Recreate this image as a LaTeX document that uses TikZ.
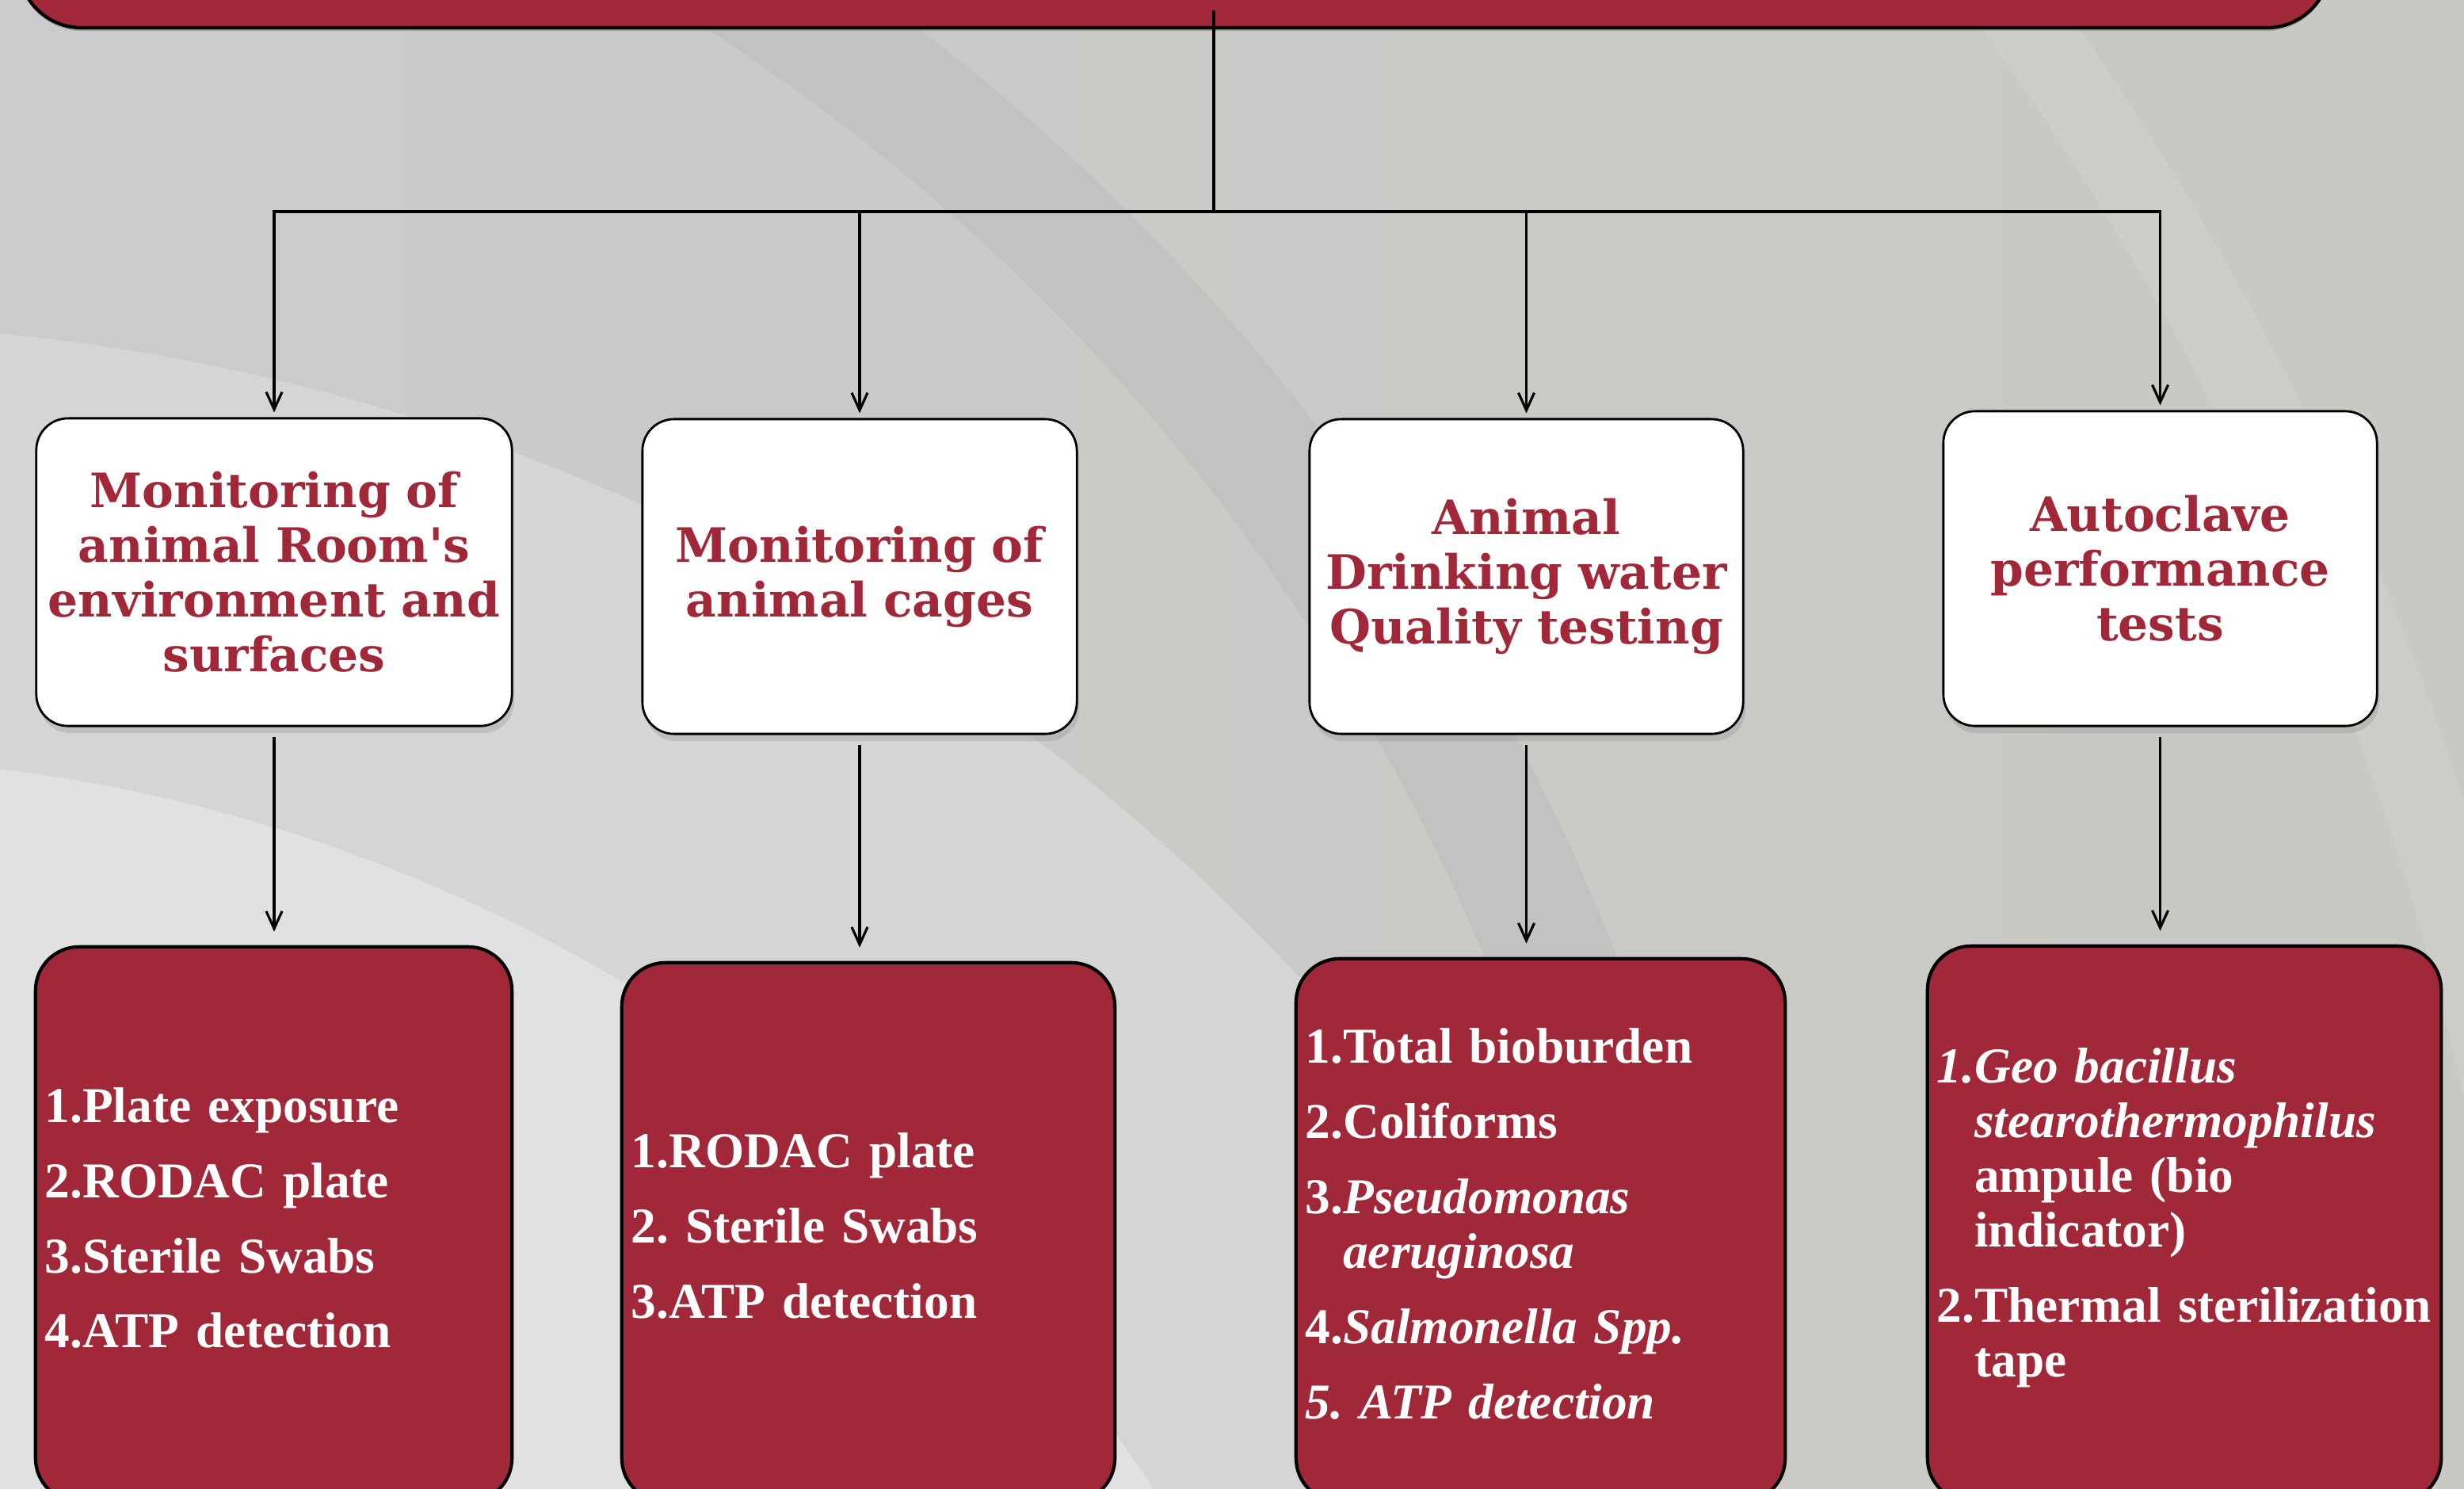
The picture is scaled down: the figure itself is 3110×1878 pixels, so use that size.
\documentclass[tikz,border=0pt]{standalone}
\usepackage{fontspec}
\setmainfont{Liberation Serif}
\newfontfamily\headfont{DejaVu Serif}
\usetikzlibrary{arrows.meta,shadows}
\frenchspacing

\definecolor{bordo}{RGB}{161,40,56}
\definecolor{bgleft}{RGB}{203,203,203}
\definecolor{bgright}{RGB}{201,200,195}
\definecolor{bglight}{RGB}{213,213,213}
\definecolor{bglighter}{RGB}{225,225,225}
\definecolor{bgdark}{RGB}{194,194,193}
\definecolor{bgpale}{RGB}{206,205,201}

\tikzset{
  headbox/.style={draw=black, line width=0.8pt, fill=white, rounded corners=0.4cm,
    text=bordo, align=center, inner sep=0pt,
    font=\headfont\bfseries\fontsize{17}{19.6}\selectfont,
    drop shadow={shadow xshift=0.03cm, shadow yshift=-0.09cm, opacity=0.25}},
  listbox/.style={draw=black, line width=1.2pt, fill=bordo, rounded corners=0.55cm,
    text=white, align=left, inner xsep=0.12cm, inner ysep=0pt,
    font=\bfseries\fontsize{18}{19.6}\selectfont,
    execute at end node={\par\vspace*{0.16cm}}},
  banner/.style={draw=black, line width=1.2pt, fill=bordo, rounded corners=0.8cm,
    drop shadow={shadow xshift=0cm, shadow yshift=-0.04cm, opacity=0.5}},
  trunk/.style={draw=black, line width=0.9pt},
  link/.style={trunk, -{Straight Barb[length=0.22cm,width=0.2cm]}}
}

\begin{document}
\begin{tikzpicture}[x=0.01cm, y=-0.01cm]
  \useasboundingbox (0,0) rectangle (3110,1878);

  % Background arcs
  \begin{scope}
    \clip (0,0) rectangle (3110,1878);
    \shade[left color=bgleft, right color=bgright] (0,0) rectangle (3110,1878);
    \fill[bglight] (-258,3004) circle (2596);
    \fill[bglighter] (-258,3004) circle (2050);
    \fill[bgdark, even odd rule] (-500,2200) circle (2727) (-500,2200) circle (2572);
    \fill[bgpale, even odd rule] (-500,2200) circle (3800) (-500,2200) circle (3700);
  \end{scope}

  % Top banner
  \node[banner, minimum width=29.16cm, minimum height=2cm] (top) at (1482,-65) {};

  % Category boxes
  \node[headbox, minimum width=6cm, minimum height=3.88cm, text width=5.9cm] (t1) at (346,722)
    {Monitoring of\\ animal Room's\\ environment and\\ surfaces};
  \node[headbox, minimum width=5.48cm, minimum height=3.97cm, text width=5.4cm] (t2) at (1085,727.5)
    {Monitoring of\\ animal cages};
  \node[headbox, minimum width=5.47cm, minimum height=3.97cm, text width=5.4cm] (t3) at (1926.5,727.5)
    {Animal\\ Drinking water\\ Quality testing};
  \node[headbox, minimum width=5.47cm, minimum height=3.97cm, text width=5.4cm] (t4) at (2726.5,717.5)
    {Autoclave\\ performance\\ tests};

  % Test lists
  \node[listbox, minimum width=6.01cm, minimum height=7cm, text width=5.77cm] (l1) at (345.5,1545)
    {1.Plate exposure\\[7.4pt] 2.RODAC plate\\[7.4pt] 3.Sterile Swabs\\[7.4pt] 4.ATP detection};
  \node[listbox, minimum width=6.22cm, minimum height=6.8cm, text width=5.98cm] (l2) at (1096,1555)
    {1.RODAC plate\\[7.4pt] 2. Sterile Swabs\\[7.4pt] 3.ATP detection};
  \node[listbox, minimum width=6.17cm, minimum height=6.85cm, text width=5.93cm] (l3) at (1944.5,1552.5)
    {1.Total bioburden\\[7.4pt] 2.Coliforms\\[7.4pt] 3.\textit{Pseudomonas}\\
     \phantom{3.}\textit{aeruginosa}\\[7.4pt] 4.\textit{Salmonella Spp.}\\[7.4pt] \textit{5. ATP detection}};
  \node[listbox, minimum width=6.48cm, minimum height=7.01cm, text width=6.24cm] (l4) at (2757,1544.5)
    {\textit{1.Geo bacillus}\\ \phantom{1.}\textit{stearothermophilus}\\ \phantom{1.}ampule (bio\\
     \phantom{1.}indicator)\\[7.4pt] 2.Thermal sterilization\\ \phantom{2.}tape};

  % Connectors
  \coordinate (stem) at (1532,13);
  \coordinate (hub) at (1532,267);
  \draw[trunk] (stem) -- (hub);
  \foreach \b in {t1,t2,t3,t4}
    \draw[link, shorten >=0.06cm] (hub) -| (\b.north);
  \foreach \a/\b in {t1/l1,t2/l2,t3/l3,t4/l4}
    \draw[link, shorten <=0.12cm, shorten >=0.17cm] (\a.south) -- (\a.south |- \b.north);
\end{tikzpicture}
\end{document}
